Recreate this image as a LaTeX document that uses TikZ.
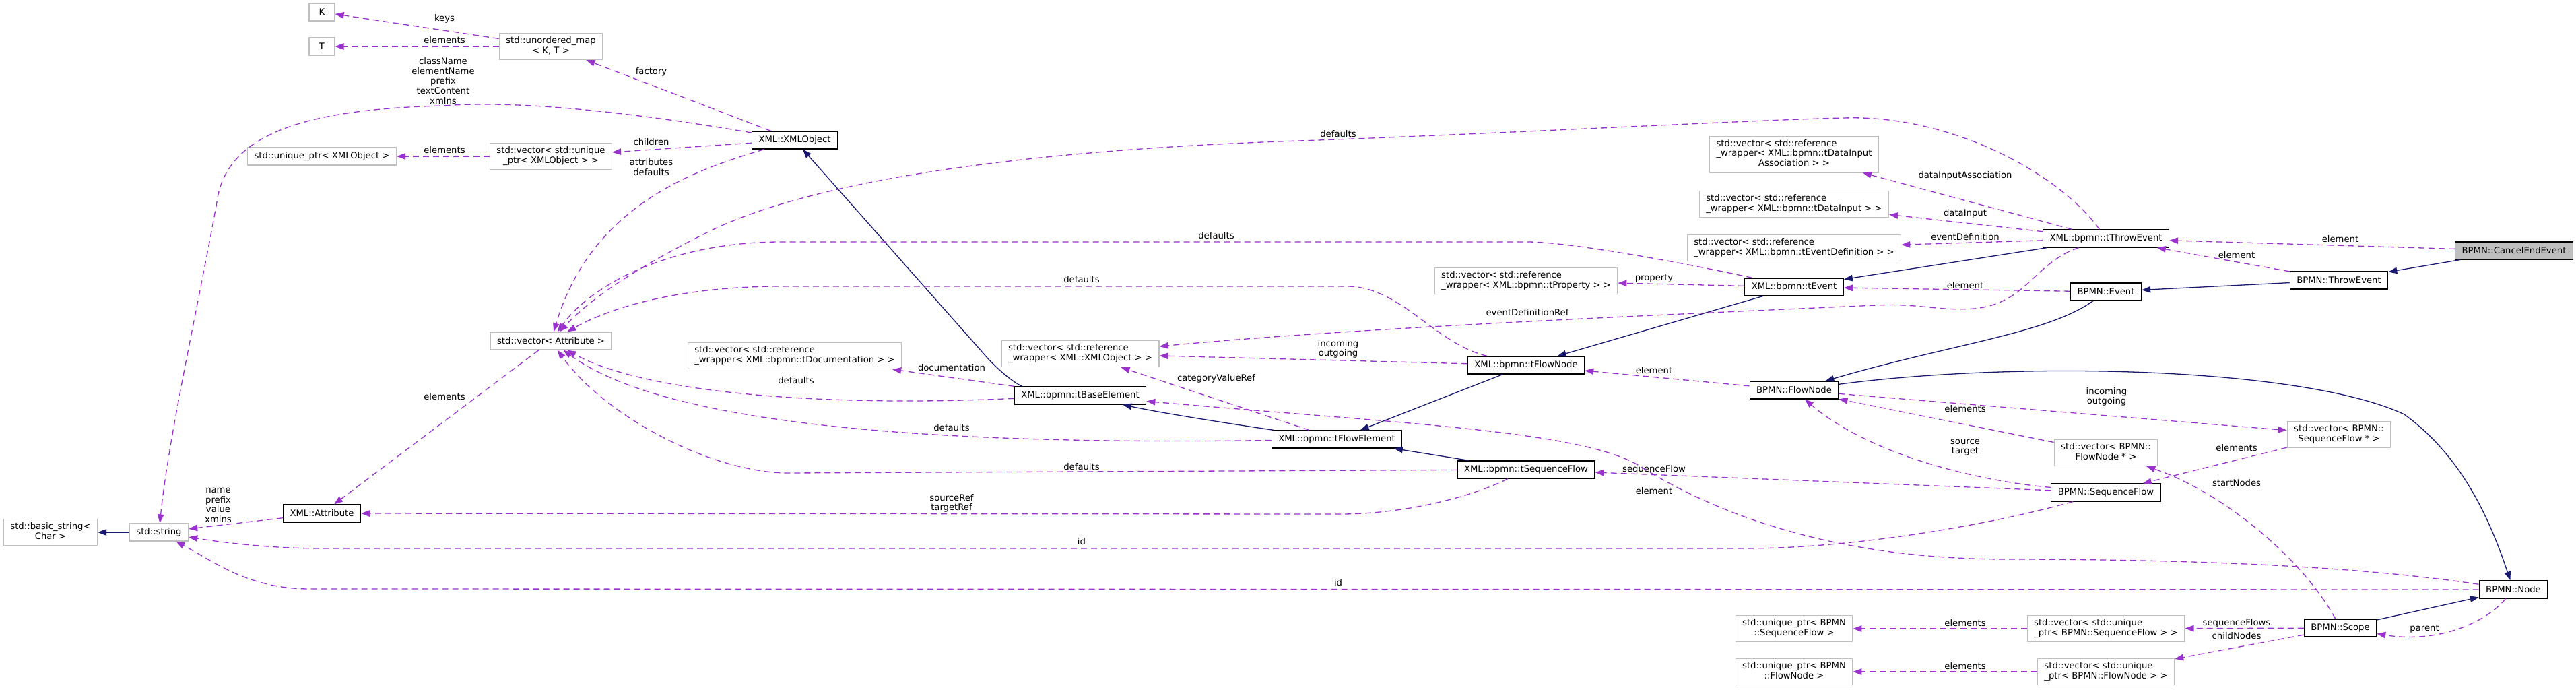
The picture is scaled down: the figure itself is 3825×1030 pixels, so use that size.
\documentclass[tikz,border=0pt]{standalone}
\usepackage{fontspec}
\setmainfont{DejaVu Sans}
\usetikzlibrary{arrows.meta}
\definecolor{usecol}{HTML}{9A32CD}
\definecolor{inhcol}{HTML}{191970}
\definecolor{extgray}{HTML}{BFBFBF}
\newcommand{\twoline}[2]{\begin{tabular}{@{}l@{}}#1\\\multicolumn{1}{@{}c@{}}{#2}\end{tabular}}
\newcommand{\threeline}[3]{\begin{tabular}{@{}l@{}}#1\\#2\\\multicolumn{1}{@{}c@{}}{#3}\end{tabular}}
\begin{document}
\begin{tikzpicture}[x=1pt, y=-1pt,
  every node/.style={font=\fontsize{13.2}{14.6}\selectfont},
  box/.style={draw=black, fill=white, line width=1.2pt, inner xsep=10pt, inner ysep=5pt, minimum height=26pt},
  extbox/.style={box, draw=extgray},
  curbox/.style={box, fill=extgray},
  lbl/.style={inner sep=0pt, align=center},
  inhedge/.style={draw=inhcol, line width=1.3pt, -{Triangle[length=13pt,width=9.5pt]}},
  usedge/.style={draw=usecol, line width=1.3pt, dash pattern=on 9pt off 6pt, -{Triangle[length=13pt,width=9.5pt]}}]
\useasboundingbox (0,0) rectangle (3825,1030);

\node[extbox, minimum width=38pt] (K) at (478,18) {K};
\node[extbox, minimum width=38pt] (T) at (478,69) {T};
\node[extbox] (umap) at (818,69) {\twoline{std::unordered\_map}{< K, T >}};
\node[extbox] (uptrXML) at (478,232) {std::unique\_ptr< XMLObject >};
\node[extbox] (vecuXML) at (818,232) {\twoline{std::vector< std::unique}{\_ptr< XMLObject > >}};
\node[box] (XMLObject) at (1180,208) {XML::XMLObject};
\node[extbox] (vecAttr) at (818,506) {std::vector< Attribute >};
\node[box] (Attribute) at (478,762) {XML::Attribute};
\node[extbox] (stdstring) at (236,790) {std::string};
\node[extbox] (basicstr) at (75,790) {\twoline{std::basic\_string<}{Char >}};

\node[extbox] (vecDoc) at (1180,528) {\twoline{std::vector< std::reference}{\_wrapper< XML::bpmn::tDocumentation > >}};
\node[extbox] (vecRefXML) at (1604,525) {\twoline{std::vector< std::reference}{\_wrapper< XML::XMLObject > >}};
\node[box] (tBaseElement) at (1604,587) {XML::bpmn::tBaseElement};
\node[box] (tFlowElement) at (1985,652) {XML::bpmn::tFlowElement};
\node[box] (tFlowNode) at (2266,542) {XML::bpmn::tFlowNode};
\node[box] (tSeqFlow) at (2266,697) {XML::bpmn::tSequenceFlow};
\node[extbox] (vecProp) at (2266,417) {\twoline{std::vector< std::reference}{\_wrapper< XML::bpmn::tProperty > >}};

\node[box] (tEvent) at (2664,426) {XML::bpmn::tEvent};
\node[extbox] (vecDIA) at (2664,229) {\threeline{std::vector< std::reference}{\_wrapper< XML::bpmn::tDataInput}{Association > >}};
\node[extbox] (vecDI) at (2664,303) {\twoline{std::vector< std::reference}{\_wrapper< XML::bpmn::tDataInput > >}};
\node[extbox] (vecED) at (2664,368) {\twoline{std::vector< std::reference}{\_wrapper< XML::bpmn::tEventDefinition > >}};
\node[box] (FlowNode) at (2664,579) {BPMN::FlowNode};
\node[extbox] (uptrSF) at (2664,933) {\twoline{std::unique\_ptr< BPMN}{::SequenceFlow >}};
\node[extbox] (uptrFN) at (2664,997) {\twoline{std::unique\_ptr< BPMN}{::FlowNode >}};

\node[box] (tThrowEvent) at (3127,354) {XML::bpmn::tThrowEvent};
\node[box] (Event) at (3127,433) {BPMN::Event};
\node[extbox] (vecFNp) at (3127,672) {\twoline{std::vector< BPMN::}{FlowNode * >}};
\node[box] (SeqFlow) at (3127,731) {BPMN::SequenceFlow};
\node[extbox] (vecuSF) at (3127,933) {\twoline{std::vector< std::unique}{\_ptr< BPMN::SequenceFlow > >}};
\node[extbox] (vecuFN) at (3127,997) {\twoline{std::vector< std::unique}{\_ptr< BPMN::FlowNode > >}};

\node[box] (ThrowEvt) at (3473,416) {BPMN::ThrowEvent};
\node[extbox] (vecSFp) at (3473,645) {\twoline{std::vector< BPMN::}{SequenceFlow * >}};
\node[box] (Scope) at (3475,932) {BPMN::Scope};
\node[curbox] (CancelEnd) at (3733,372) {BPMN::CancelEndEvent};
\node[box] (Node) at (3732,875) {BPMN::Node};

\node[lbl] (lkeys) at (660,28) {keys};
\node[lbl] (lelemT) at (660,60) {elements};
\node[lbl] (lfactory) at (967,107) {factory};
\node[lbl] (lxmlstr) at (658,120) {className\\elementName\\prefix\\textContent\\xmlns};
\node[lbl] (lchildren) at (967,211) {children};
\node[lbl] (lelemuptr) at (660,223) {elements};
\node[lbl] (lattrs) at (967,248) {attributes\\defaults};
\node[lbl] (lelemattr) at (660,589) {elements};
\node[lbl] (lattrstr) at (324,750) {name\\prefix\\value\\xmlns};
\node[lbl] (ldefthrow) at (1987,199) {defaults};
\node[lbl] (ldefevent) at (1806,350) {defaults};
\node[lbl] (ldefnode) at (1606,415) {defaults};
\node[lbl] (levdefref) at (2268,464) {eventDefinitionRef};
\node[lbl] (linout) at (1987,518) {incoming\\outgoing};
\node[lbl] (ldoc) at (1413,546) {documentation};
\node[lbl] (ldefbase) at (1182,565) {defaults};
\node[lbl] (lcatref) at (1806,562) {categoryValueRef};
\node[lbl] (ldefelem) at (1413,635) {defaults};
\node[lbl] (ldefseq) at (1606,693) {defaults};
\node[lbl] (lsrctgt) at (1413,747) {sourceRef\\targetRef};
\node[lbl] (lidseq) at (1606,804) {id};
\node[lbl] (lidnode) at (1987,865) {id};
\node[lbl] (ldia) at (2918,261) {dataInputAssociation};
\node[lbl] (ldi) at (2918,317) {dataInput};
\node[lbl] (led) at (2918,352) {eventDefinition};
\node[lbl] (lelcancel) at (3475,355) {element};
\node[lbl] (lelthrow) at (3321,379) {element};
\node[lbl] (lprop) at (2456,413) {property};
\node[lbl] (lelevent) at (2918,424) {element};
\node[lbl] (lelflow) at (2456,550) {element};
\node[lbl] (linoutfn) at (3128,589) {incoming\\outgoing};
\node[lbl] (lelemfn) at (2918,607) {elements};
\node[lbl] (lsrctgtfn) at (2918,664) {source\\target};
\node[lbl] (lelemsf) at (3321,665) {elements};
\node[lbl] (lseqflow) at (2456,697) {sequenceFlow};
\node[lbl] (lelnode) at (2456,729) {element};
\node[lbl] (lstart) at (3321,717) {startNodes};
\node[lbl] (lelemusf) at (2918,925) {elements};
\node[lbl] (lelemufn) at (2918,989) {elements};
\node[lbl] (lseqflows) at (3321,925) {sequenceFlows};
\node[lbl] (lchild) at (3321,944) {childNodes};
\node[lbl] (lparent) at (3600,933) {parent};

\draw[inhedge] (CancelEnd) -- (ThrowEvt);
\draw[inhedge] (ThrowEvt) -- (Event);
\draw[inhedge] (Event) .. controls (3040,495) and (2900,510) .. (FlowNode);
\draw[inhedge] (FlowNode) .. controls (3000,535) and (3420,545) .. (3570,615) .. controls (3660,680) and (3700,780) .. (Node);
\draw[inhedge] (Scope) -- (Node);
\draw[inhedge] (tThrowEvent) -- (tEvent);
\draw[inhedge] (tEvent) -- (tFlowNode);
\draw[inhedge] (tFlowNode) -- (tFlowElement);
\draw[inhedge] (tFlowElement) .. controls (1820,628) and (1720,612) .. (tBaseElement);
\draw[inhedge] (tSeqFlow) -- (tFlowElement);
\draw[inhedge] (tBaseElement.171) .. controls (1505,568) and (1480,548) .. (1458,522) -- (XMLObject);
\draw[inhedge] (stdstring) -- (basicstr);

\draw[usedge] (umap) -- (K);
\draw[usedge] (umap) -- (T);
\draw[usedge] (XMLObject) -- (umap);
\draw[usedge] (XMLObject) .. controls (900,160) and (750,150) .. (658,157) .. controls (450,162) and (335,200) .. (322,300) .. controls (295,450) and (250,650) .. (stdstring);
\draw[usedge] (XMLObject) -- (vecuXML);
\draw[usedge] (vecuXML) -- (uptrXML);
\draw[usedge] (XMLObject) .. controls (1040,250) and (880,300) .. (vecAttr);
\draw[usedge] (vecAttr) -- (Attribute);
\draw[usedge] (Attribute) -- (stdstring);

\draw[usedge] (tThrowEvent) .. controls (3060,260) and (2900,170) .. (2738,175) .. controls (2600,178) and (2200,200) .. (1900,210) .. controls (1500,225) and (1200,270) .. (1050,345) .. controls (950,395) and (880,440) .. (vecAttr);
\draw[usedge] (tEvent) .. controls (2500,390) and (2330,359) .. (2268,359) -- (1160,359) .. controls (1000,359) and (880,420) .. (vecAttr);
\draw[usedge] (tFlowNode) .. controls (2130,510) and (2080,425) .. (2000,425) -- (1160,425) .. controls (1000,425) and (900,460) .. (vecAttr);
\draw[usedge] (tBaseElement) .. controls (1200,605) and (950,580) .. (vecAttr);
\draw[usedge] (tFlowElement) .. controls (1450,660) and (1000,640) .. (vecAttr);
\draw[usedge] (tSeqFlow) -- (1170,702) .. controls (1060,702) and (900,620) .. (vecAttr);

\draw[usedge] (tThrowEvent) -- (vecDIA);
\draw[usedge] (tThrowEvent) -- (vecDI);
\draw[usedge] (tThrowEvent) -- (vecED);
\draw[usedge] (tThrowEvent) .. controls (3020,390) and (3010,450) .. (2932,458) .. controls (2880,462) and (2850,450) .. (2786,453) .. controls (2400,470) and (2000,488) .. (vecRefXML);
\draw[usedge] (CancelEnd) -- (tThrowEvent);
\draw[usedge] (ThrowEvt) -- (tThrowEvent);
\draw[usedge] (Event) -- (tEvent);
\draw[usedge] (tEvent) -- (vecProp);
\draw[usedge] (tFlowNode) -- (vecRefXML);
\draw[usedge] (tBaseElement) -- (vecDoc);
\draw[usedge] (tFlowElement) -- (vecRefXML);

\draw[usedge] (FlowNode) -- (tFlowNode);
\draw[usedge] (FlowNode) -- (vecSFp);
\draw[usedge] (vecFNp) -- (FlowNode);
\draw[usedge] (SeqFlow) .. controls (2920,712) and (2770,670) .. (FlowNode);
\draw[usedge] (vecSFp) -- (SeqFlow);
\draw[usedge] (SeqFlow) -- (tSeqFlow);
\draw[usedge] (Node) .. controls (3500,840) and (3250,830) .. (2981,830) .. controls (2700,830) and (2530,750) .. (2440,695) .. controls (2360,640) and (2100,630) .. (tBaseElement);
\draw[usedge] (tSeqFlow) .. controls (2180,740) and (2080,763) .. (1990,763) -- (Attribute);
\draw[usedge] (SeqFlow) .. controls (2950,780) and (2750,814) .. (2590,814) -- (480,814) .. controls (400,814) and (330,805) .. (stdstring);
\draw[usedge] (Node) -- (460,874) .. controls (370,874) and (320,835) .. (stdstring);

\draw[usedge] (Scope) -- (vecuSF);
\draw[usedge] (vecuSF) -- (uptrSF);
\draw[usedge] (Scope) -- (vecuFN);
\draw[usedge] (vecuFN) -- (uptrFN);
\draw[usedge] (Scope) .. controls (3420,830) and (3300,730) .. (vecFNp);
\draw[usedge] (Node) .. controls (3690,925) and (3620,955) .. (Scope);
\end{tikzpicture}
\end{document}
